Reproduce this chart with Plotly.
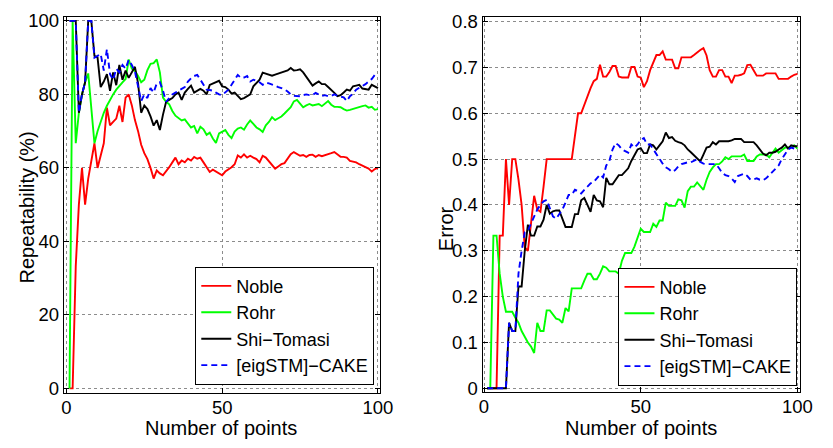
import plotly.graph_objects as go

# Number of points on the x axis
n_points = list(range(1, 101))

# Repeatability (%) per detector
rep_noble = [0, 0, 33.3, 50, 60, 50, 57.1, 62.5, 66.7, 60,
             63.6, 66.7, 76.4, 71.6, 72.5, 73.4, 76.9, 72.5, 79.1, 80,
             77, 73, 70, 66.3, 64, 62.4, 60, 57.1, 59.3, 58.5,
             58, 59, 60.2, 61.5, 62.8, 61, 62, 61.5, 62.5, 62,
             63, 62.5, 62.8, 61.5, 60.2, 58.9, 59.5, 59, 58.5, 58,
             59, 59.5, 60.2, 61, 63.4, 62.8, 63.7, 62.8, 63.3, 62.8,
             62.4, 61.5, 63.3, 62.8, 61.8, 60.8, 59.8, 60.4, 61, 61.3,
             62.5, 63.7, 64.3, 63.8, 63.3, 63.5, 63, 63.5, 63.6, 63,
             63.5, 63.2, 63.4, 63.7, 64, 64.3, 63.6, 63, 63, 62.8,
             61.9, 61.7, 61.5, 61, 60.7, 60.2, 59.8, 59, 59.7, 60]
rep_rohr = [0, 100, 66.7, 75, 80, 83.3, 85.7, 75, 66.7, 70,
            72.7, 75, 76.9, 78.6, 80, 81.3, 82.4, 83.3, 84.2, 89.5,
            87, 86.4, 85, 83.3, 84, 86.6, 88.3, 88.5, 89.5, 86,
            79.1, 78, 77.3, 75.5, 74.2, 73.5, 72.9, 73.2, 72, 71,
            71.4, 69.4, 71.2, 70.5, 69, 69.6, 68, 66.8, 69.4, 69.8,
            70.3, 69, 68.1, 69.9, 70.7, 71, 70.4, 71.8, 72.9, 72,
            71, 70.5, 69.8, 71.6, 72.5, 73.8, 73, 73.5, 74, 74.8,
            75.8, 76.5, 78.1, 78.5, 77.5, 76.5, 77, 77.4, 77, 77.3,
            77.4, 76.8, 77.5, 78.2, 77.2, 76.6, 76.6, 76.5, 76, 75.6,
            75.8, 76.1, 76.3, 76.5, 76.8, 77, 76.4, 76.6, 75.8, 76]
rep_shi = [100, 100, 100, 75, 80, 83.3, 100, 100, 90.5, 90,
           82, 83.5, 85.5, 81, 86, 82.5, 88, 84, 86.5, 84.5,
           86, 87.5, 83, 75, 77, 76, 74, 71.5, 73, 70.3,
           74.5, 78, 78.5, 79, 80, 80.5, 78.5, 80.5, 81.5, 82.4,
           80.5, 81, 81.5, 81, 80, 82.6, 83, 83.5, 83.7, 82.2,
           82, 81.3, 80.2, 80.5, 79.5, 78.7, 79, 79.4, 80, 82.2,
           83, 84, 85.9, 85.6, 85.5, 85.1, 85.4, 85.7, 85.9, 86.2,
           86.5, 87.2, 86.5, 86.6, 86.8, 86, 84.8, 83.6, 82.4, 83,
           83.5, 82.8, 82.8, 82, 81.3, 80.4, 79.5, 79.8, 80.5, 81.3,
           81, 82.2, 82.4, 82.6, 81.6, 81.4, 81.3, 82.6, 82.2, 81.7]
rep_cake = [100, 100, 100, 75, 80, 83.3, 100, 100, 90, 90.5,
            91, 86.5, 92.3, 85.5, 84, 87, 86, 88, 87, 89.4,
            88, 86.2, 82.6, 78.2, 80, 79, 81.7, 80.5, 83, 83.3,
            81, 78, 79, 80, 80.5, 81, 81.5, 82, 83.5, 84.4,
            85, 85.3, 84, 82.6, 81.3, 81.2, 81, 80.5, 80, 79.8,
            80.5, 81.3, 82.6, 84, 85.3, 84.5, 84.6, 85, 83.5, 84,
            83.6, 83.3, 82.6, 83.2, 83, 82.8, 82.4, 82, 81.8, 81.4,
            80.8, 80, 79.6, 79.5, 79.5, 79.8, 80, 79.8, 79.8, 80.4,
            80, 79.6, 79.8, 79.5, 79.6, 80, 79.6, 79.5, 79.2, 78.2,
            79.5, 80.2, 81.3, 81.8, 82.2, 82.8, 83.5, 84.2, 85.3, 85.6]

# Localisation error per detector
err_noble = [0, 0, 0, 0, 0.333, 0.333, 0.5, 0.4, 0.5, 0.5,
             0.455, 0.4, 0.308, 0.3, 0.36, 0.42, 0.39, 0.385, 0.44, 0.5,
             0.5, 0.5, 0.5, 0.5, 0.5, 0.5, 0.5, 0.5, 0.55, 0.6,
             0.6, 0.62, 0.64, 0.655, 0.67, 0.675, 0.706, 0.68, 0.68, 0.69,
             0.703, 0.703, 0.68, 0.678, 0.678, 0.678, 0.701, 0.701, 0.68, 0.678,
             0.657, 0.67, 0.694, 0.712, 0.727, 0.727, 0.735, 0.717, 0.717, 0.717,
             0.698, 0.698, 0.722, 0.722, 0.722, 0.722, 0.727, 0.733, 0.738, 0.742,
             0.726, 0.694, 0.68, 0.68, 0.694, 0.694, 0.68, 0.68, 0.666, 0.682,
             0.682, 0.684, 0.687, 0.705, 0.706, 0.694, 0.682, 0.682, 0.682, 0.687,
             0.687, 0.687, 0.687, 0.675, 0.675, 0.675, 0.675, 0.68, 0.684, 0.686]
err_rohr = [0, 0, 0.333, 0.333, 0.25, 0.2, 0.167, 0.167, 0.167, 0.154,
            0.143, 0.125, 0.111, 0.1, 0.091, 0.077, 0.143, 0.125, 0.125, 0.17,
            0.17, 0.16, 0.152, 0.15, 0.143, 0.175, 0.168, 0.218, 0.218, 0.218,
            0.218, 0.235, 0.25, 0.25, 0.238, 0.238, 0.25, 0.266, 0.263, 0.255,
            0.255, 0.255, 0.25, 0.278, 0.295, 0.295, 0.295, 0.309, 0.33, 0.348,
            0.341, 0.341, 0.341, 0.359, 0.352, 0.366, 0.366, 0.405, 0.398, 0.398,
            0.398, 0.412, 0.41, 0.394, 0.43, 0.44, 0.44, 0.449, 0.44, 0.433,
            0.455, 0.472, 0.482, 0.489, 0.489, 0.495, 0.504, 0.5, 0.506, 0.506,
            0.506, 0.506, 0.51, 0.496, 0.496, 0.496, 0.506, 0.51, 0.51, 0.51,
            0.504, 0.515, 0.523, 0.514, 0.52, 0.525, 0.525, 0.527, 0.53, 0.523]
err_shi = [0, 0, 0, 0, 0, 0, 0, 0.143, 0.125, 0.125,
           0.222, 0.222, 0.3, 0.357, 0.333, 0.333, 0.353, 0.353, 0.368, 0.4,
           0.381, 0.386, 0.388, 0.388, 0.37, 0.352, 0.352, 0.352, 0.38, 0.38,
           0.41, 0.415, 0.4, 0.385, 0.422, 0.41, 0.408, 0.395, 0.459, 0.445,
           0.445, 0.455, 0.465, 0.465, 0.472, 0.48, 0.496, 0.51, 0.521, 0.524,
           0.513, 0.513, 0.532, 0.53, 0.521, 0.53, 0.539, 0.558, 0.546, 0.548,
           0.54, 0.537, 0.535, 0.53, 0.521, 0.515, 0.508, 0.5, 0.495, 0.51,
           0.525, 0.527, 0.537, 0.532, 0.539, 0.539, 0.539, 0.539, 0.541, 0.544,
           0.544, 0.544, 0.537, 0.537, 0.537, 0.537, 0.53, 0.521, 0.512, 0.508,
           0.514, 0.514, 0.516, 0.521, 0.525, 0.532, 0.523, 0.53, 0.528, 0.528]
err_cake = [0, 0, 0, 0, 0, 0, 0, 0.143, 0.125, 0.125,
            0.25, 0.3, 0.34, 0.344, 0.36, 0.376, 0.39, 0.4, 0.408, 0.411,
            0.394, 0.375, 0.37, 0.38, 0.39, 0.405, 0.422, 0.422, 0.433, 0.43,
            0.425, 0.433, 0.44, 0.447, 0.45, 0.458, 0.466, 0.46, 0.486, 0.496,
            0.521, 0.535, 0.53, 0.521, 0.518, 0.514, 0.532, 0.525, 0.532, 0.542,
            0.546, 0.532, 0.532, 0.521, 0.51, 0.5, 0.49, 0.482, 0.478, 0.472,
            0.476, 0.484, 0.489, 0.491, 0.493, 0.493, 0.496, 0.5, 0.494, 0.49,
            0.489, 0.489, 0.489, 0.489, 0.48, 0.47, 0.465, 0.463, 0.458, 0.45,
            0.463, 0.466, 0.468, 0.463, 0.455, 0.456, 0.458, 0.455, 0.454, 0.458,
            0.465, 0.472, 0.478, 0.486, 0.5, 0.51, 0.521, 0.525, 0.523, 0.521]

names = ["Noble", "Rohr", "Shi\u2212Tomasi", "[eigSTM]\u2212CAKE"]
colors = ["#ff0000", "#00ff00", "#000000", "#0000ff"]
dashes = ["solid", "solid", "solid", "6px,4px"]
rep_series = [rep_noble, rep_rohr, rep_shi, rep_cake]
err_series = [err_noble, err_rohr, err_shi, err_cake]

FONT = "Liberation Sans, Arial, Helvetica, sans-serif"
W, H = 833, 448

fig = go.Figure()
for i in range(4):
    fig.add_trace(go.Scatter(
        x=n_points, y=rep_series[i], name=names[i], mode="lines",
        line=dict(color=colors[i], width=1.9, dash=dashes[i]),
        xaxis="x", yaxis="y", legend="legend"))
for i in range(4):
    fig.add_trace(go.Scatter(
        x=n_points, y=err_series[i], name=names[i], mode="lines",
        line=dict(color=colors[i], width=1.9, dash=dashes[i]),
        xaxis="x2", yaxis="y2", legend="legend2"))


def px_x(p):
    return p / W


def px_y(p):
    return 1 - p / H


axis_common = dict(
    showline=True, linecolor="black", linewidth=1, mirror="ticks",
    ticks="inside", ticklen=5, tickcolor="black", tickwidth=1,
    showgrid=True, gridcolor="#8c8c8c", griddash="dot", gridwidth=1,
    zeroline=False, tickfont=dict(family=FONT, size=18.5, color="black"),
)

legend_common = dict(
    xanchor="right", yanchor="bottom", bgcolor="white",
    bordercolor="black", borderwidth=1, font=dict(family=FONT, size=18),
    itemwidth=30, tracegroupgap=0,
)


def label(text, x, y, angle=0):
    return dict(text=text, x=px_x(x), y=px_y(y), xref="paper", yref="paper",
                xanchor="center", yanchor="middle", showarrow=False,
                borderpad=0, textangle=angle, font=dict(family=FONT, size=20))


fig.update_layout(
    width=W, height=H,
    margin=dict(l=0, r=0, t=0, b=0),
    paper_bgcolor="white", plot_bgcolor="white",
    font=dict(family=FONT, size=20, color="black"),
    xaxis=dict(axis_common, domain=[px_x(61), px_x(384.3)], range=[-0.85, 100.8],
               tickvals=[0, 50, 100], anchor="y", ticklabelstandoff=-2),
    yaxis=dict(axis_common, domain=[px_y(397.3), px_y(10.3)], range=[-1.19, 101.06],
               tickvals=[0, 20, 40, 60, 80, 100], anchor="x"),
    xaxis2=dict(axis_common, domain=[px_x(488.5), px_x(812.7)], range=[-0.47, 100.85],
                tickvals=[0, 50, 100], anchor="y2", ticklabelstandoff=-2),
    yaxis2=dict(axis_common, domain=[px_y(396.7), px_y(10.3)], range=[-0.0085, 0.81],
                tickvals=[0, 0.1, 0.2, 0.3, 0.4, 0.5, 0.6, 0.7, 0.8], anchor="x2"),
    legend=dict(legend_common, x=px_x(378), y=px_y(389)),
    legend2=dict(legend_common, x=px_x(810), y=px_y(390)),
    showlegend=True,
    annotations=[
        label("Number of points", 222, 434),
        label("Number of points", 650, 434),
        label("Repeatability (%)", 23, 207, -90),
        label("Error", 452, 228, -90),
    ],
)

fig.write_html("out.html")
